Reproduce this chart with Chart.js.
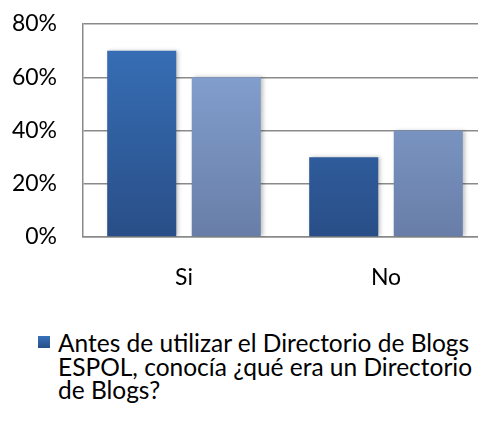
<!DOCTYPE html>
<html lang="es">
<head>
  <meta charset="UTF-8">
  <title>Directorio de Blogs ESPOL</title>
  <script src="https://cdn.jsdelivr.net/npm/chart.js"></script>
  <style>
    body { margin: 0; background: white; overflow: hidden; font-family: Lato, sans-serif; }
    #wrap { position: relative; width: 478px; height: 423px; overflow: hidden; }
    #grafico { position: absolute; left: 0; top: 0; }
    #leyenda { position: absolute; left: 38px; top: 331px; font-size: 24.5px; line-height: 23.5px; color: #000; white-space: nowrap; }
    #leyenda .item { display: flex; align-items: flex-start; }
    #leyenda .caja { width: 12px; height: 12px; margin: 5px 8px 0 0; flex: none; }
  </style>
</head>
<body>
<div id="wrap">
  <canvas id="grafico" width="487" height="300"></canvas>
  <div id="leyenda"></div>
</div>

<script>
const categorias = ["Si", "No"];
const serieAntes = [70, 30];
const serieDespues = [60, 40];
const etiquetaAntes = ["Antes de utilizar el Directorio de Blogs", "ESPOL, conocía ¿qué era un Directorio", "de Blogs?"];
const etiquetaDespues = ["Después de utilizar el Directorio de Blogs ESPOL"];
const ticksY = [0, 20, 40, 60, 80];

function degradado(ctx, arriba, abajo) {
  const area = ctx.chart.chartArea;
  if (!area) return arriba;
  const g = ctx.chart.ctx.createLinearGradient(0, area.top, 0, area.bottom);
  g.addColorStop(0, arriba);
  g.addColorStop(1, abajo);
  return g;
}

// sombra suave a la derecha de cada barra, como en el original
const sombra = {
  id: "sombra",
  beforeDatasetsDraw(chart) {
    const c = chart.ctx;
    c.save();
    c.shadowColor = "rgba(0,0,0,0.25)";
    c.shadowBlur = 4;
    c.shadowOffsetX = 2;
  },
  afterDatasetsDraw(chart) { chart.ctx.restore(); }
};

const grafico = new Chart(document.getElementById("grafico"), {
  type: "bar",
  data: {
    labels: categorias,
    datasets: [
      { label: etiquetaAntes.join(" "), data: serieAntes,
        backgroundColor: c => degradado(c, "#3872bb", "#294e87") },
      { label: etiquetaDespues.join(" "), data: serieDespues,
        backgroundColor: c => degradado(c, "#8aa8d8", "#687ea8") }
    ]
  },
  options: {
    responsive: false,
    animation: false,
    layout: { padding: { top: 24, left: 0, right: 0, bottom: 0 } },
    categoryPercentage: 0.837,
    barPercentage: 0.817,
    plugins: { legend: { display: false }, tooltip: { enabled: false } },
    scales: {
      x: {
        grid: { display: false, drawTicks: false },
        border: { color: "#8a8a8a", width: 1.5 },
        ticks: { color: "#000", font: { family: "Lato", size: 23 }, padding: 27 },
        afterFit: s => { s.height = 63; s.paddingLeft = 0; s.paddingRight = 0; }
      },
      y: {
        min: 0, max: 80,
        afterBuildTicks: s => { s.ticks = ticksY.map(v => ({ value: v })); },
        grid: { color: "#8a8a8a", lineWidth: 1.5, drawTicks: false },
        border: { color: "#8a8a8a", width: 1.5 },
        ticks: { color: "#000", font: { family: "Lato", size: 23 }, padding: 26,
                 callback: v => v + "%" },
        afterFit: s => { s.width = 83; s.paddingTop = 0; s.paddingBottom = 0; }
      }
    }
  },
  plugins: [sombra]
});

// leyenda en HTML: solo cabe la primera serie, la segunda queda fuera del recuadro
const leyenda = document.getElementById("leyenda");
leyenda.innerHTML = `<div class="item"><span class="caja" style="background:linear-gradient(#3872bb,#294e87)"></span>
  <span>${etiquetaAntes.join("<br>")}</span></div>`;
</script>
</body>
</html>
